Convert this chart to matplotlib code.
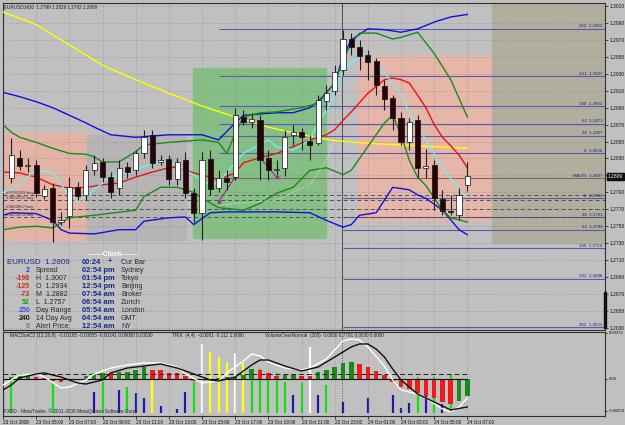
import matplotlib
matplotlib.use("Agg")
import matplotlib.pyplot as plt
from matplotlib.patches import Rectangle

# ---------------- data ----------------
opens = [1.2807, 1.2831, 1.2821, 1.2822, 1.2786, 1.2795, 1.2755, 1.2762, 1.2796, 1.2787,
         1.2816, 1.2826, 1.2808, 1.2795, 1.2820, 1.2816, 1.2836, 1.2858, 1.2826, 1.2829,
         1.2806, 1.2828, 1.2789, 1.2766, 1.2829, 1.2795, 1.2807, 1.2808, 1.2879, 1.2873,
         1.2875, 1.2831, 1.2817, 1.2819, 1.2858, 1.2861, 1.2851, 1.2848, 1.2898, 1.2910,
         1.2934, 1.2971, 1.2962, 1.2952, 1.2945, 1.2916, 1.2901, 1.2878, 1.2849, 1.2875,
         1.2819, 1.2822, 1.2782, 1.2768, 1.2763, 1.2799]
highs = [1.2854, 1.2840, 1.2831, 1.2828, 1.2799, 1.2801, 1.2767, 1.2808, 1.2802, 1.2822,
         1.2834, 1.2831, 1.2814, 1.2828, 1.2826, 1.2840, 1.2864, 1.2864, 1.2834, 1.2834,
         1.2830, 1.2838, 1.2795, 1.2838, 1.2840, 1.2816, 1.2816, 1.2890, 1.2887, 1.2884,
         1.2881, 1.2840, 1.2828, 1.2864, 1.2869, 1.2866, 1.2858, 1.2905, 1.2917, 1.2940,
         1.2982, 1.2978, 1.2970, 1.2958, 1.2949, 1.2923, 1.2905, 1.2885, 1.2878, 1.2881,
         1.2841, 1.2828, 1.2793, 1.2787, 1.2795, 1.2826]
lows = [1.2801, 1.2816, 1.2814, 1.2785, 1.2782, 1.2731, 1.2752, 1.2748, 1.2781, 1.2781,
        1.2811, 1.2802, 1.2783, 1.2787, 1.2807, 1.2811, 1.2831, 1.2819, 1.2822, 1.2799,
        1.2799, 1.2783, 1.2755, 1.2734, 1.2787, 1.2790, 1.2793, 1.2805, 1.2869, 1.2866,
        1.2805, 1.2805, 1.2811, 1.2809, 1.2846, 1.2840, 1.2828, 1.2846, 1.2887, 1.2905,
        1.2929, 1.2952, 1.2934, 1.2923, 1.2905, 1.2887, 1.2864, 1.2846, 1.2840, 1.2807,
        1.2807, 1.2769, 1.2763, 1.2763, 1.2757, 1.2792]
closes = [1.2834, 1.2821, 1.2822, 1.2789, 1.2794, 1.2755, 1.2757, 1.2796, 1.2786, 1.2816,
          1.2825, 1.2808, 1.2790, 1.2819, 1.2814, 1.2836, 1.2855, 1.2825, 1.2828, 1.2806,
          1.2826, 1.2789, 1.2766, 1.2828, 1.2794, 1.2807, 1.2802, 1.2881, 1.2873, 1.2877,
          1.2828, 1.2816, 1.2818, 1.2855, 1.2861, 1.2855, 1.2846, 1.2899, 1.2907, 1.2932,
          1.2971, 1.2962, 1.2951, 1.2944, 1.2917, 1.2900, 1.2878, 1.2849, 1.2873, 1.2819,
          1.2821, 1.2783, 1.2768, 1.2767, 1.2787, 1.2809]

time_labels = ["23 Oct 2008", "23 Oct 05:00", "23 Oct 07:00", "23 Oct 09:00", "23 Oct 11:00",
               "23 Oct 13:00", "23 Oct 15:00", "23 Oct 17:00", "23 Oct 19:00", "23 Oct 21:00",
               "23 Oct 23:00", "24 Oct 01:00", "24 Oct 03:00", "24 Oct 05:00", "24 Oct 07:00"]
label_bars = [-1, 3, 7, 11, 15, 19, 23, 27, 31, 35, 39, 43, 47, 51, 55]
price_ticks = [1.3010, 1.2990, 1.2970, 1.2950, 1.2930, 1.2910, 1.2890, 1.2870, 1.2850, 1.2830,
               1.2810, 1.2790, 1.2770, 1.2750, 1.2730, 1.2710, 1.2690, 1.2670, 1.2650, 1.2630]

yellow_x = [-1, 3, 7, 11, 15, 19, 23, 27, 31, 35, 39, 43, 47, 55]
yellow_y = [1.3003, 1.2988, 1.2964, 1.2940, 1.2923, 1.2907, 1.2892, 1.2879, 1.2867, 1.2858,
            1.2851, 1.2848, 1.2846, 1.2842]

blue_up_x = [-1, 1, 3, 5, 7, 9, 10, 12, 15, 19, 23, 25, 27, 28, 32, 34, 36, 37, 39, 40, 41,
             43, 45, 47, 49, 51, 53, 55]
blue_up_y = [1.2908, 1.2903, 1.2897, 1.2890, 1.2881, 1.2872, 1.2867, 1.2858, 1.2855, 1.2858,
             1.2858, 1.2852, 1.2872, 1.2881, 1.2884, 1.2884, 1.2890, 1.2897, 1.2919, 1.2950,
             1.2970, 1.2983, 1.2982, 1.2979, 1.2983, 1.2991, 1.2997, 1.3000]

green_up_x = [-1, 0, 1, 3, 5, 7, 9, 10, 11, 13, 15, 16, 19, 23, 25, 26, 27, 28, 30, 32, 35,
              37, 38, 39, 40, 41, 42, 44, 46, 47, 49, 51, 53, 55]
green_up_y = [1.2870, 1.2861, 1.2855, 1.2849, 1.2842, 1.2836, 1.2835, 1.2832, 1.2826, 1.2826,
              1.2838, 1.2846, 1.2849, 1.2852, 1.2849, 1.2836, 1.2860, 1.2879, 1.2884, 1.2885,
              1.2890, 1.2895, 1.2907, 1.2919, 1.2946, 1.2966, 1.2978, 1.2978, 1.2971, 1.2973,
              1.2979, 1.2954, 1.2923, 1.2879]

blue_lo_x = [-1, 0, 3, 5, 6, 7, 10, 13, 15, 16, 19, 21, 22, 24, 26, 32, 36, 38, 40, 41, 42,
             44, 46, 48, 49, 50, 52, 54, 55]
blue_lo_y = [1.2763, 1.2766, 1.2765, 1.2757, 1.2746, 1.2742, 1.2741, 1.2746, 1.2746, 1.2756,
             1.2760, 1.2761, 1.2752, 1.2766, 1.2767, 1.2767, 1.2766, 1.2757, 1.2749, 1.2752,
             1.2763, 1.2766, 1.2796, 1.2793, 1.2787, 1.2783, 1.2769, 1.2746, 1.2740]

green_lo_x = [-1, 1, 3, 5, 6, 7, 10, 15, 16, 18, 20, 22, 23, 25, 28, 30, 32, 34, 36, 38, 40,
              41, 43, 45, 46, 47, 48, 49, 50, 52, 53, 55]
green_lo_y = [1.2746, 1.2749, 1.2750, 1.2748, 1.2754, 1.2760, 1.2763, 1.2769, 1.2785, 1.2796,
              1.2796, 1.2790, 1.2783, 1.2772, 1.2769, 1.2777, 1.2789, 1.2796, 1.2816, 1.2819,
              1.2811, 1.2816, 1.2844, 1.2872, 1.2881, 1.2858, 1.2828, 1.2808, 1.2798, 1.2769,
              1.2760, 1.2755]

red_x = [-1, 1, 3, 5, 7, 9, 11, 13, 15, 17, 19, 20, 22, 24, 25, 27, 28, 30, 32, 34, 36, 38,
         39, 40, 41, 43, 45, 46, 47, 48, 50, 51, 52, 53, 54, 55]
red_y = [1.2814, 1.2813, 1.2808, 1.2799, 1.2795, 1.2796, 1.2799, 1.2801, 1.2808, 1.2814,
         1.2819, 1.2820, 1.2813, 1.2808, 1.2805, 1.2813, 1.2825, 1.2831, 1.2836, 1.2844,
         1.2852, 1.2858, 1.2864, 1.2875, 1.2885, 1.2907, 1.2923, 1.2925, 1.2923, 1.2919,
         1.2890, 1.2870, 1.2855, 1.2845, 1.2834, 1.2819]

cyan_x = [-1, 0, 3, 5, 7, 8, 9, 11, 12, 15, 17, 19, 20, 23, 24, 25, 28, 31, 32, 34, 36, 37,
          38, 39, 40, 41, 42, 43, 44, 45, 47, 48, 50, 52, 54, 55]
cyan_y = [1.2790, 1.2793, 1.2816, 1.2814, 1.2785, 1.2779, 1.2785, 1.2801, 1.2808, 1.2816,
          1.2825, 1.2826, 1.2822, 1.2805, 1.2799, 1.2802, 1.2836, 1.2852, 1.2844, 1.2840,
          1.2852, 1.2872, 1.2887, 1.2907, 1.2932, 1.2944, 1.2949, 1.2950, 1.2947, 1.2931,
          1.2905, 1.2884, 1.2852, 1.2819, 1.2793, 1.2785]

faint_x = [25, 32, 36, 38, 39]
faint_y = [1.2775, 1.2781, 1.2799, 1.2828, 1.2852]

zig1_x = [25, 27]
zig1_y = [1.2779, 1.2808]
zig2_x = [30, 32]
zig2_y = [1.2831, 1.2808]

fib_hi_levels = ["262", "161", "100", "62", "38", "0"]
fib_hi_prices = [1.2983, 1.2927, 1.2892, 1.2871, 1.2857, 1.2836]
fib_lo_levels = ["0", "38", "62", "100", "162", "262"]
fib_lo_prices = [1.2783, 1.2761, 1.2746, 1.2724, 1.2688, 1.2631]
ma_level_price = 1.2807
order_names = ["#9791309 buy", "#9822265 buy", "#9822857 buy", "#9823053 buy"]
order_prices = [1.2787, 1.2781, 1.2770, 1.2761]

hist_vals = [0.00016, 0.00024, 0.00024, 0.00016, 0.00008, -0.00016, -0.00024, -0.00008, 0.00004, 0.00024,
             0.00049, 0.00049, 0.00049, 0.00057, 0.00057, 0.00073, 0.00097, 0.00073, 0.00073, 0.00049,
             0.00049, 0.00024, -0.00016, -0.00008, 0.00004, 0.00008, 0.00016, 0.00016, 0.00032, 0.00081,
             0.00073, 0.00049, 0.00024, 0.00032, 0.00032, 0.00024, 0.00024, 0.00057, 0.00073, 0.00097,
             0.00130, 0.00138, 0.00122, 0.00097, 0.00065, 0.00032, -0.00024, -0.00065, -0.00081, -0.00114,
             -0.00138, -0.00154, -0.00187, -0.00203, -0.00178, -0.00138]
hist_dir = ["up", "up", "up", "dn", "dn", "dn", "dn", "dn", "up", "up",
            "up", "up", "dn", "up", "up", "up", "up", "dn", "dn", "dn",
            "dn", "dn", "dn", "dn", "up", "up", "up", "up", "up", "up",
            "dn", "dn", "dn", "up", "up", "dn", "dn", "up", "up", "up",
            "up", "up", "dn", "dn", "dn", "dn", "dn", "dn", "dn", "dn",
            "dn", "dn", "dn", "dn", "up", "up"]

sig_x = [-1, 0, 1, 3, 4, 6, 8, 9, 11, 12, 14, 16, 18, 20, 22, 24, 25, 27, 29, 30, 31, 33, 35,
         37, 39, 41, 42, 43, 44, 45, 46, 47, 49, 51, 53, 55]
sig_y = [-0.00089, -0.00049, 0.00008, 0.00041, 0.00049, 0.00016, -0.00032, -0.00041, -0.00008,
         0.00049, 0.00089, 0.00105, 0.00122, 0.00089, 0.00041, -0.00008, -0.00016, 0.00016,
         0.00114, 0.00154, 0.00154, 0.00105, 0.00065, 0.00097, 0.00178, 0.00260, 0.00284,
         0.00284, 0.00243, 0.00178, 0.00081, -0.00008, -0.00122, -0.00187, -0.00251, -0.00227]
main_x = [-1, 0, 1, 3, 4, 6, 7, 9, 10, 12, 14, 16, 18, 20, 21, 23, 25, 26, 28, 29, 30, 31, 33,
          35, 36, 38, 39, 40, 41, 42, 43, 45, 46, 47, 49, 50, 52, 53, 54, 55]
main_y = [-0.00049, -0.00008, 0.00032, 0.00041, 0.00016, -0.00073, -0.00065, -0.00008, 0.00041,
          0.00089, 0.00114, 0.00130, 0.00130, 0.00097, 0.00041, -0.00032, -0.00016, 0.00049,
          0.00146, 0.00203, 0.00187, 0.00138, 0.00089, 0.00073, 0.00089, 0.00162, 0.00235,
          0.00308, 0.00324, 0.00316, 0.00260, 0.00105, -0.00008, -0.00089, -0.00122, -0.00154,
          -0.00243, -0.00268, -0.00227, -0.00154]
macd_level = 0.00041

vol_x = [-1, 0, 5, 10, 11, 13, 14, 15, 16, 17, 18, 20, 21, 22, 23, 24, 25, 26, 27, 28, 29,
         30, 31, 32, 33, 34, 35, 36, 37, 38, 40, 43, 46, 47, 48, 49, 50, 51, 52, 53]
vol_r = [0.29, 0.45, 0.40, 0.29, 0.40, 0.31, 0.35, 0.27, 0.21, 0.55, 0.12, 0.08, 0.29, 0.40,
         0.86, 0.76, 0.70, 0.64, 0.75, 0.63, 0.55, 0.56, 0.46, 0.51, 0.40, 0.25, 0.39, 0.82,
         0.25, 0.37, 0.17, 0.21, 0.25, 0.10, 0.15, 0.46, 0.33, 0.46, 0.14, 0.49]
vol_cls = ["b", "g", "g", "b", "g", "b", "g", "b", "b", "y", "b", "b", "b", "g",
           "w", "y", "y", "y", "w", "y", "g", "g", "g", "g", "g", "b", "g", "w",
           "b", "g", "b", "b", "b", "b", "b", "g", "b", "g", "b", "g"]

info_nums = ["2", "-198", "-125", "-73", "52", "250", "240", "0"]
info_names = ["Spread", "H  1.3007", "O  1.2934", "M  1.2882", "L  1.2757", "Day Range",
              "14 Day Avg", "Alert Price"]
clock_times = ["00:24", "02:54 pm", "01:54 pm", "12:54 pm", "07:54 am", "06:54 am",
               "05:54 am", "04:54 am", "12:54 am"]
clock_cities = ["Cur Bar", "Sydney", "Tokyo", "Beijing", "Broker", "Zurich", "London", "GMT", "NY"]

# ---------------- figure ----------------
W, H = 625, 425
BG = '#c0c0c0'
FONT = 'Liberation Sans'
plt.rcParams['font.family'] = [FONT, 'DejaVu Sans']
fig = plt.figure(figsize=(6.25, 4.25), dpi=100)
fig.patch.set_facecolor(BG)


def fx(px):
    return px / W


def fy(py):
    return 1 - py / H


ax = fig.add_axes([fx(3), fy(330), fx(605) - fx(3), fy(3) - fy(330)])
axm = fig.add_axes([fx(3), fy(416), fx(605) - fx(3), fy(332) - fy(416)])
XL = (-1.0, 71.6)
for a in (ax, axm):
    a.set_facecolor(BG)
    a.set_xlim(*XL)
    for s in a.spines.values():
        s.set_color('#303030')
        s.set_linewidth(0.8)

ax.set_ylim(1.26276, 1.30135)
axm.set_ylim(-0.0030, 0.00381)

# shaded session boxes (in data coordinates)
ax.add_patch(Rectangle((-1.0, 1.2734), 10.1, 1.2860 - 1.2734, color='#e3b3a6', zorder=0))
ax.add_patch(Rectangle((9.1, 1.2734), 12.0, 1.2858 - 1.2734, color='#b6b4b4', zorder=0))
ax.add_patch(Rectangle((21.9, 1.2736), 16.0, 1.2937 - 1.2736, color='#86bf86', zorder=0))
ax.add_patch(Rectangle((41.8, 1.2757), 16.2, 1.2952 - 1.2757, color='#e6b6a8', zorder=0))
ax.add_patch(Rectangle((58.0, 1.2730), 13.6, 1.3014 - 1.2730, color='#b2ae9e', zorder=0))

# grid
for b in label_bars[1:]:
    ax.axvline(b, color='#8a8a8a', lw=0.5, ls=(0, (1, 2)), zorder=1)
    axm.axvline(b, color='#8a8a8a', lw=0.5, ls=(0, (1, 2)), zorder=1)
for p in price_ticks:
    ax.axhline(p, color='#8a8a8a', lw=0.5, ls=(0, (1, 2)), zorder=1)

# horizontal levels
LBL = 3.2
for lev, p in zip(fib_hi_levels, fib_hi_prices):
    ax.hlines(p, 25, XL[1], color='#5a5ab0', lw=0.8, zorder=2)
    ax.text(71.3, p + 0.00005, f"{lev}  {p:.4f}", fontsize=LBL, color='#20207a',
            ha='right', va='bottom', zorder=6)
for lev, p in zip(fib_lo_levels, fib_lo_prices):
    ax.hlines(p, 40, XL[1], color='#5a5ab0', lw=0.8, zorder=2)
    ax.text(71.3, p + 0.00005, f"{lev}  {p:.4f}", fontsize=LBL, color='#20207a',
            ha='right', va='bottom', zorder=6)
ax.hlines(ma_level_price, 25, XL[1], color='#7a6a70', lw=0.8, zorder=2)
ax.text(71.3, ma_level_price + 0.00005, f"MA375  {ma_level_price:.4f}", fontsize=LBL,
        color='#20207a', ha='right', va='bottom', zorder=6)
for name, p in zip(order_names, order_prices):
    ax.hlines(p, XL[0], XL[1], color='#505050', lw=0.7, ls=(0, (4, 3)), zorder=2)
    ax.text(-0.6, p + 0.00004, name, fontsize=LBL, color='#30305a', ha='left', va='bottom',
            zorder=6)

# separator
ax.axvline(39.9, color='#505050', lw=0.7, zorder=2)
axm.axvline(39.9, color='#303030', lw=0.6, ls=(0, (1, 2)), zorder=2)

# indicator lines
ax.plot(yellow_x, yellow_y, color='#ffff00', lw=1.0, zorder=3)
ax.plot(blue_up_x, blue_up_y, color='#1010e0', lw=1.0, zorder=3)
ax.plot(blue_lo_x, blue_lo_y, color='#1010e0', lw=1.0, zorder=3)
ax.plot(green_up_x, green_up_y, color='#1a8a1a', lw=1.0, zorder=3)
ax.plot(green_lo_x, green_lo_y, color='#1a8a1a', lw=1.0, zorder=3)
ax.plot(red_x, red_y, color='#ee1010', lw=1.0, zorder=3)
ax.plot(cyan_x, cyan_y, color='#70f0f0', lw=1.0, zorder=3)
ax.plot(faint_x, faint_y, color='#f0f0d0', lw=0.6, ls=(0, (1, 1.5)), zorder=3)
for zx, zy in ((zig1_x, zig1_y), (zig2_x, zig2_y)):
    ax.plot(zx, zy, color='#b02090', lw=0.8, marker='s', ms=2, mfc='none', zorder=3)

# candles
BW = 0.62
for i, (o, h, l, c) in enumerate(zip(opens, highs, lows, closes)):
    ax.vlines(i, l, h, color='#202020', lw=0.8, zorder=4)
    lo, hi = min(o, c), max(o, c)
    fc = '#ffffff' if c >= o else '#26040a'
    if hi - lo < 0.00008:
        ax.hlines((o + c) / 2, i - BW / 2, i + BW / 2, color='#101010', lw=1.0, zorder=5)
    else:
        ax.add_patch(Rectangle((i - BW / 2, lo), BW, hi - lo, facecolor=fc,
                               edgecolor='#101010', lw=0.5, zorder=5))

# price axis (the 1.2810 label is hidden behind the current-price box)
ax.yaxis.tick_right()
ax.set_yticks(price_ticks)
ax.set_yticklabels(["" if abs(p - 1.2810) < 1e-6 else f"{p:.4f}" for p in price_ticks],
                   fontsize=3.5, color='#101010')
ax.tick_params(axis='y', length=2, width=0.5, pad=1.5, colors='#101010')
ax.set_xticks([])

# current price box
fig.text(fx(608), fy(176.5), f"{closes[-1]:.4f}", fontsize=3.5, color='white', ha='left',
         va='center', bbox=dict(boxstyle='square,pad=0.2', fc='#101010', ec='#101010'))
fig.patches.append(Rectangle((fx(604), fy(328)), 2 / W, 36 / H, transform=fig.transFigure,
                             color='#101010'))

# chart title
fig.text(fx(4), fy(7), "EURUSD,M30  1.2799 1.2826 1.2792 1.2809", fontsize=3.3,
         color='#202020', va='center')

# info panel
fig.text(fx(7), fy(262), "EURUSD  1.2809", fontsize=5.8, color='#1a2a9a', va='center')
num_col = {"2": '#2040e0', "-198": '#d02a1a', "-125": '#d02a1a', "-73": '#d02a1a',
           "52": '#10a010', "250": '#2d4ff0', "240": '#202020', "0": '#707070'}
for k, (n, nm) in enumerate(zip(info_nums, info_names)):
    yy = 270 + 8 * k
    fig.text(fx(30), fy(yy), n, fontsize=5.0, color=num_col[n], ha='right', va='center',
             fontweight='bold')
    fig.text(fx(36), fy(yy), nm, fontsize=5.0, color='#2a2a2a', va='center')
for k, (t, cty) in enumerate(zip(clock_times, clock_cities)):
    yy = 262 + 8 * k
    fig.text(fx(82), fy(yy), t, fontsize=5.4, color='#16288c', va='center', fontweight='bold')
    fig.text(fx(121), fy(yy), cty, fontsize=5.0, color='#2a2a2a', va='center')
fig.text(fx(108), fy(262), "+", fontsize=5.2, color='#16288c', va='center', fontweight='bold')
fig.text(fx(113), fy(254), "-------Clock-------", fontsize=5.0, color='white', ha='center',
         va='center', fontweight='bold')

# ---------------- MACD / volume panel ----------------
axv = axm.twinx()
axv.set_ylim(0, 1)
axv.set_xlim(*XL)
axv.set_yticks([])
for s in axv.spines.values():
    s.set_visible(False)
vol_colors = {"b": '#1c1ca8', "g": '#10e010', "y": '#ffff10', "w": '#ffffff'}
axv.vlines(vol_x, 0.04, vol_r, colors=[vol_colors[c] for c in vol_cls], lw=1.6, zorder=2)

hist_colors = {"up": '#188a18', "dn": '#f01a1a'}
axm.bar(range(len(hist_vals)), hist_vals, width=0.55,
        color=[hist_colors[d] for d in hist_dir], zorder=3)
axm.hlines(0, XL[0], len(hist_vals) - 1, color='#101010', lw=0.8, zorder=4)
axm.hlines(macd_level, XL[0], len(hist_vals) - 1, color='#202020', lw=0.7,
           ls=(0, (5, 3)), zorder=4)
axm.plot(main_x, main_y, color='#ffffff', lw=1.0, zorder=5)
axm.plot(sig_x, sig_y, color='#101010', lw=1.0, zorder=5)
axm.set_zorder(axv.get_zorder() + 1)
axm.patch.set_visible(False)
axv.patch.set_visible(True)
axv.patch.set_facecolor(BG)

axm.yaxis.tick_right()
axm.set_yticks([0.00373, 0.0, -0.00259])
axm.set_yticklabels(["0.00373", "0.00", "-0.00259"], fontsize=3.0, color='#101010')
axm.tick_params(axis='y', length=1.5, width=0.5, pad=1.0)
axm.set_xticks(label_bars)
axm.set_xticklabels(time_labels, fontsize=3.4, color='#101010', ha='left')
axm.tick_params(axis='x', length=2, width=0.5, pad=1)

fig.text(fx(10), fy(336), "MACDonC2 (12,26,9)  -0.00195 -0.00055 -0.00141 0.00000 0.00000",
         fontsize=3.4, color='#202020', va='center')
fig.text(fx(172), fy(336), "TRIX  (4,4)  -0.0081 -0.111 1.0000", fontsize=3.4,
         color='#202020', va='center')
fig.text(fx(265), fy(336), "VolumeOverNormal  (200)  0.0000 0.7791 0.0000 0.0000",
         fontsize=3.4, color='#202020', va='center')
fig.text(fx(4), fy(411), "FXDD - MetaTrader, \u00a9 2001-2008 MetaQuotes Software Corp.",
         fontsize=3.4, color='#202040', va='center')

fig.savefig('out.png', dpi=100, facecolor=BG)
